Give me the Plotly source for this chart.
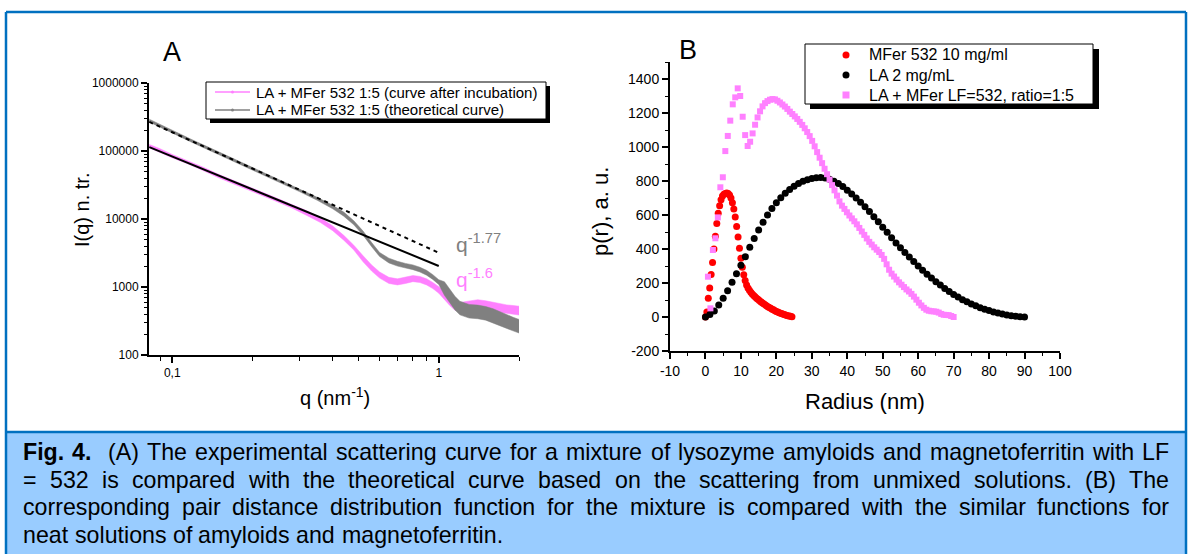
import plotly.graph_objects as go

W, H = 1190, 554
FONT = "Liberation Sans, Arial, sans-serif"

# ---------------- Panel A: scattering intensity I(q), log-log ----------------
q_incub = [0.082, 0.09, 0.10, 0.115, 0.13, 0.15, 0.17, 0.20, 0.24, 0.28,
           0.32, 0.36, 0.40, 0.44, 0.48, 0.52, 0.56, 0.60, 0.65, 0.70,
           0.75, 0.80, 0.85, 0.90, 0.95, 1.00, 1.05, 1.10, 1.15, 1.20,
           1.30, 1.40, 1.50, 1.60, 1.70, 1.80, 1.90, 2.00]
I_incub = [118000, 102000, 84000, 68000, 55000, 42500, 35000, 26800, 20000, 15500,
           12200, 9600, 7300, 5300, 3800, 2600, 1900, 1500, 1250, 1190,
           1250, 1330, 1290, 1190, 1050, 900, 760, 620, 530, 510,
           540, 560, 540, 510, 490, 470, 460, 450]
# half-width of the measurement scatter band, in decades
noise_incub = [0.025, 0.025, 0.025, 0.025, 0.025, 0.025, 0.025, 0.025, 0.025, 0.025,
               0.035, 0.035, 0.035, 0.035, 0.035, 0.045, 0.045, 0.045, 0.045, 0.045,
               0.045, 0.045, 0.045, 0.045, 0.045, 0.045, 0.065, 0.065, 0.065, 0.065,
               0.065, 0.065, 0.065, 0.065, 0.065, 0.065, 0.065, 0.065]

q_theo = [0.082, 0.09, 0.10, 0.12, 0.15, 0.20, 0.25, 0.30, 0.35, 0.40,
          0.44, 0.48, 0.52, 0.56, 0.60, 0.65, 0.70, 0.75, 0.80, 0.85,
          0.90, 0.95, 1.00, 1.05, 1.10, 1.15, 1.20, 1.30, 1.40, 1.50,
          1.60, 1.70, 1.80, 1.90, 2.00]
I_theo = [280000, 235000, 190000, 137000, 92000, 55000, 37000, 26500, 19800, 15000,
          11800, 8800, 6200, 4200, 3000, 2450, 2200, 2050, 1950, 1800,
          1620, 1400, 1180, 950, 740, 580, 490, 440, 430, 410,
          380, 340, 310, 285, 265]
noise_theo = [0.02, 0.02, 0.02, 0.02, 0.02, 0.02, 0.02, 0.02, 0.022, 0.026,
              0.03, 0.03, 0.03, 0.03, 0.03, 0.035, 0.035, 0.035, 0.035, 0.035,
              0.035, 0.035, 0.035, 0.1, 0.1, 0.1, 0.1, 0.1, 0.1, 0.1,
              0.1, 0.1, 0.1, 0.1, 0.1]

# power-law guide lines  q^-1.6 (solid) and q^-1.77 (dashed)
fit16_q, fit16_I = [0.082, 1.0], [114000, 2040]
fit177_q, fit177_I = [0.082, 1.0], [268000, 3190]

tick_A_x = [0.1, 1]
tick_A_x_text = ["0,1", "1"]
tick_A_y = [100, 1000, 10000, 100000, 1000000]
tick_A_y_text = ["100", "1000", "10000", "100000", "1000000"]

# ---------------- Panel B: pair distance distribution p(r) ----------------
p_mfer = [0, 30, 110, 170, 250, 320, 400, 475, 550, 610,
          655, 690, 712, 722, 727, 729, 727, 718, 700, 672,
          635, 588, 532, 470, 405, 345, 292, 248, 214, 188,
          170, 157, 146, 136, 127, 119, 111, 104, 97, 90,
          84, 78, 72, 66, 61, 56, 51, 46, 42, 37,
          33, 29, 25, 22, 19, 16, 13, 10, 8, 6, 4, 2]
r_mfer = [round(0.4 * i, 2) for i in range(len(p_mfer))]

p_la = [0, 15, 35, 70, 110, 155, 205, 255, 305, 355,
        410, 462, 512, 557, 600, 638, 672, 702, 728, 750,
        769, 785, 798, 808, 815, 819, 820, 817, 810, 799,
        785, 768, 746, 724, 700, 675, 648, 620, 590, 560,
        528, 498, 466, 436, 408, 380, 353, 326, 300, 275,
        252, 229, 208, 188, 168, 150, 133, 117, 102, 89,
        77, 66, 55, 46, 38, 30, 23, 17, 12, 8, 5, 2, 0]
r_la = [round(1.25 * i, 2) for i in range(len(p_la))]

p_mix = [237, 51, 394, 463, 586, 763, 822, 976, 1065,
         1155, 1251, 1292, 1345, 1300, 1178, 1070, 1006, 1031, 1080,
         1131, 1174, 1210, 1239, 1258, 1270, 1278, 1282, 1280, 1272,
         1262, 1250, 1238, 1224, 1208, 1194, 1180, 1165, 1148, 1130,
         1110, 1088, 1064, 1036, 1004, 970, 937, 905, 872, 840,
         808, 776, 745, 714, 680, 655, 636, 616, 597, 580,
         563, 545, 524, 503, 483, 462, 442, 426, 410, 396,
         382, 365, 342, 310, 278, 255, 238, 220, 204, 190,
         176, 162, 150, 136, 120, 102, 84, 68, 54, 43,
         37, 34, 33, 31, 26, 18, 13, 12, 11, 6, 0]
r_mix = [round(0.7 * (i + 1), 2) for i in range(len(p_mix))]

legend_A = ["LA + MFer 532 1:5 (curve after incubation)",
            "LA + MFer 532 1:5 (theoretical curve)"]
legend_B = ["MFer 532 10 mg/ml", "LA 2 mg/mL", "LA + MFer LF=532, ratio=1:5"]

caption_lines = [
    "Fig. 4.  (A) The experimental scattering curve for a mixture of lysozyme amyloids and magnetoferritin with LF",
    "= 532 is compared with the theoretical curve based on the scattering from unmixed solutions. (B) The",
    "corresponding pair distance distribution function for the mixture is compared with the similar functions for",
    "neat solutions of amyloids and magnetoferritin.",
]
caption_bold = ["Fig.", "4."]

PINK = "#FF80FF"
GRAY = "#808080"
BLUE = "#0070C0"
CAPTION_BG = "#99CCFF"


def px(x):
    return x / W


def py(y):
    return 1 - y / H


def band(q, I, s):
    hi = [v * 10 ** d for v, d in zip(I, s)]
    lo = [v * 10 ** (-d) for v, d in zip(I, s)]
    return q + q[::-1], hi + lo[::-1]


fig = go.Figure()

bx, by = band(q_incub, I_incub, noise_incub)
fig.add_trace(go.Scatter(x=bx, y=by, fill="toself", fillcolor=PINK, mode="lines",
                         line=dict(width=0.5, color=PINK), showlegend=False,
                         xaxis="x", yaxis="y"))
bx, by = band(q_theo, I_theo, noise_theo)
fig.add_trace(go.Scatter(x=bx, y=by, fill="toself", fillcolor=GRAY, mode="lines",
                         line=dict(width=0.5, color=GRAY), showlegend=False,
                         xaxis="x", yaxis="y"))
fig.add_trace(go.Scatter(x=fit16_q, y=fit16_I, mode="lines",
                         line=dict(color="black", width=2), showlegend=False,
                         xaxis="x", yaxis="y"))
fig.add_trace(go.Scatter(x=fit177_q, y=fit177_I, mode="lines",
                         line=dict(color="black", width=2, dash="4px,4px"), showlegend=False,
                         xaxis="x", yaxis="y"))

fig.add_trace(go.Scatter(x=r_mfer, y=p_mfer, mode="markers",
                         marker=dict(symbol="circle", size=7, color="#FF0000"),
                         showlegend=False, xaxis="x2", yaxis="y2"))
fig.add_trace(go.Scatter(x=r_la, y=p_la, mode="markers",
                         marker=dict(symbol="circle", size=7, color="black"),
                         showlegend=False, xaxis="x2", yaxis="y2"))
fig.add_trace(go.Scatter(x=r_mix, y=p_mix, mode="markers",
                         marker=dict(symbol="square", size=6, color=PINK),
                         showlegend=False, xaxis="x2", yaxis="y2"))

axis_common = dict(showline=True, linecolor="black", linewidth=2, showgrid=False,
                   zeroline=False, ticks="outside", tickcolor="black", tickwidth=1.5,
                   mirror=False, automargin=False)

minor_q = [0.09, 0.2, 0.3, 0.4, 0.5, 0.6, 0.7, 0.8, 0.9, 2]
minor_I = [m * 10 ** e for e in range(2, 6) for m in range(2, 10)]

fig.update_layout(
    width=W, height=H, autosize=False,
    margin=dict(l=0, r=0, t=0, b=0, pad=0, autoexpand=False),
    paper_bgcolor="white", plot_bgcolor="rgba(0,0,0,0)",
    font=dict(family=FONT, color="black"),
    showlegend=False,
    xaxis=dict(axis_common, type="log", domain=[px(149), px(519)],
               range=[-1.0872, 0.30103], anchor="y",
               tickmode="array", tickvals=tick_A_x, ticktext=tick_A_x_text,
               ticklen=6, tickfont=dict(size=12),
               minor=dict(tickmode="array", tickvals=minor_q, ticks="outside",
                          ticklen=4, tickcolor="black", tickwidth=1.2)),
    yaxis=dict(axis_common, type="log", domain=[py(355), py(83)],
               range=[2, 6], anchor="x",
               tickmode="array", tickvals=tick_A_y, ticktext=tick_A_y_text,
               ticklen=6, tickfont=dict(size=12),
               minor=dict(tickmode="array", tickvals=minor_I, ticks="outside",
                          ticklen=3, tickcolor="black", tickwidth=1.2)),
    xaxis2=dict(axis_common, domain=[px(670), px(1060)], range=[-10, 100], anchor="y2",
                tickmode="array", tickvals=list(range(-10, 101, 10)),
                ticktext=[str(v) for v in range(-10, 101, 10)],
                ticklen=6, tickfont=dict(size=14),
                minor=dict(dtick=5, ticks="outside", ticklen=3, tickcolor="black",
                           tickwidth=1.2)),
    yaxis2=dict(axis_common, domain=[py(351), py(62)], range=[-200, 1500], anchor="x2",
                tickmode="array", tickvals=list(range(-200, 1401, 200)),
                ticktext=[str(v) for v in range(-200, 1401, 200)],
                ticklen=6, tickfont=dict(size=14),
                minor=dict(dtick=100, ticks="outside", ticklen=3, tickcolor="black",
                           tickwidth=1.2)),
)

shapes = []
ann = []


def rect(x0, y0, x1, y1, **kw):
    return dict(type="rect", xref="paper", yref="paper",
                x0=px(x0), x1=px(x1), y0=py(y0), y1=py(y1), **kw)


def text(x, y, s, size, color="black", xanchor="center", yanchor="middle", angle=0, bold=False):
    if bold:
        s = "<b>" + s + "</b>"
    ann.append(dict(xref="paper", yref="paper", x=px(x), y=py(y), text=s, showarrow=False,
                    xanchor=xanchor, yanchor=yanchor, textangle=angle,
                    font=dict(family=FONT, size=size, color=color), borderpad=0))


# figure frame and caption band
shapes.append(rect(6, 433, 1186, 554, fillcolor=CAPTION_BG, line=dict(width=0), layer="below"))
for (x0, y0, x1, y1) in [(6, 12, 1186, 12), (6, 12, 6, 554), (1186, 12, 1186, 554), (6, 432, 1186, 432)]:
    shapes.append(dict(type="line", xref="paper", yref="paper", x0=px(x0), x1=px(x1),
                       y0=py(y0), y1=py(y1), line=dict(color=BLUE, width=2.5), layer="below"))

# legend A
shapes.append(rect(210, 86, 550, 123, fillcolor="black", line=dict(width=0), layer="below"))
shapes.append(rect(206, 82, 546, 119, fillcolor="white", line=dict(color="black", width=1), layer="below"))
for (yy, col, lab) in [(92, PINK, legend_A[0]), (110, GRAY, legend_A[1])]:
    shapes.append(dict(type="line", xref="paper", yref="paper", x0=px(215), x1=px(250),
                       y0=py(yy), y1=py(yy), line=dict(color=col, width=1.5)))
    shapes.append(dict(type="circle", xref="paper", yref="paper", x0=px(231), x1=px(234),
                       y0=py(yy + 1.5), y1=py(yy - 1.5), fillcolor=col, line=dict(width=0)))
    text(255, yy, lab, 15, xanchor="left")

# legend B
shapes.append(rect(810, 49, 1099, 109, fillcolor="black", line=dict(width=0), layer="below"))
shapes.append(rect(805, 44, 1093, 104, fillcolor="white", line=dict(color="black", width=1), layer="below"))
for (yy, col, sym, lab) in [(55, "#FF0000", "circle", legend_B[0]),
                            (75, "black", "circle", legend_B[1]),
                            (95, PINK, "rect", legend_B[2])]:
    shapes.append(dict(type=sym, xref="paper", yref="paper", x0=px(842.5), x1=px(849.5),
                       y0=py(yy + 3.5), y1=py(yy - 3.5), fillcolor=col, line=dict(width=0)))
    text(868, yy, lab, 16, xanchor="left")

# panel letters, axis titles, slope labels
text(172, 52, "A", 27)
text(688, 50, "B", 27)
text(82, 210, "I(q) n. tr.", 20, angle=-90)
text(335, 396, "q (nm<sup>-1</sup>)", 20)
text(600, 212, "p(r), a. u.", 22, angle=-90)
text(865, 401, "Radius (nm)", 22)
text(455, 243, "q<sup>-1.77</sup>", 21, color=GRAY, xanchor="left")
text(455, 278, "q<sup>-1.6</sup>", 21, color=PINK, xanchor="left")

# justified caption, word by word (Arial/Helvetica advance widths, 1/1000 em)
HELV = {' ': 278, '(': 333, ')': 333, ',': 278, '-': 333, '.': 278, '/': 278, ':': 278,
        '=': 584, '+': 584}
HELV.update({d: 556 for d in "0123456789"})
HELV.update(dict(zip("ABCDEFGHIJKLMNOPQRSTUVWXYZ",
                     [667, 667, 722, 722, 667, 611, 778, 722, 278, 500, 667, 556, 833,
                      722, 778, 667, 778, 722, 667, 611, 722, 667, 944, 667, 667, 611])))
HELV.update(dict(zip("abcdefghijklmnopqrstuvwxyz",
                     [556, 556, 500, 556, 556, 278, 556, 556, 222, 222, 500, 222, 833,
                      556, 556, 556, 556, 333, 500, 278, 556, 500, 722, 500, 500, 500])))
HELV_B = dict(HELV)
HELV_B.update({'F': 611, 'i': 278, 'g': 611, '.': 278, '4': 556})

CAP_SIZE = 23.2
CAP_LEFT, CAP_RIGHT = 22, 1168
cap_rows = [452, 479.7, 507.4, 535]


def wwidth(w, bold):
    tab = HELV_B if bold else HELV
    return sum(tab.get(c, 556) for c in w) / 1000 * CAP_SIZE


for li, line in enumerate(caption_lines):
    words = line.split(" ")
    bolds = [li == 0 and w in caption_bold and i < 2 for i, w in enumerate(words)]
    widths = [wwidth(w, b) for w, b in zip(words, bolds)]
    if li < len(caption_lines) - 1:
        gap = (CAP_RIGHT - CAP_LEFT - sum(widths)) / (len(words) - 1)
    else:
        gap = 0.278 * CAP_SIZE
    x = CAP_LEFT
    for w, b, ww in zip(words, bolds, widths):
        if w:
            text(x, cap_rows[li], w, CAP_SIZE, xanchor="left", bold=b)
        x += ww + gap

fig.update_layout(shapes=shapes, annotations=ann)
fig.write_html("out.html",
               post_script="document.body.style.margin='0';document.body.style.overflow='hidden';")
